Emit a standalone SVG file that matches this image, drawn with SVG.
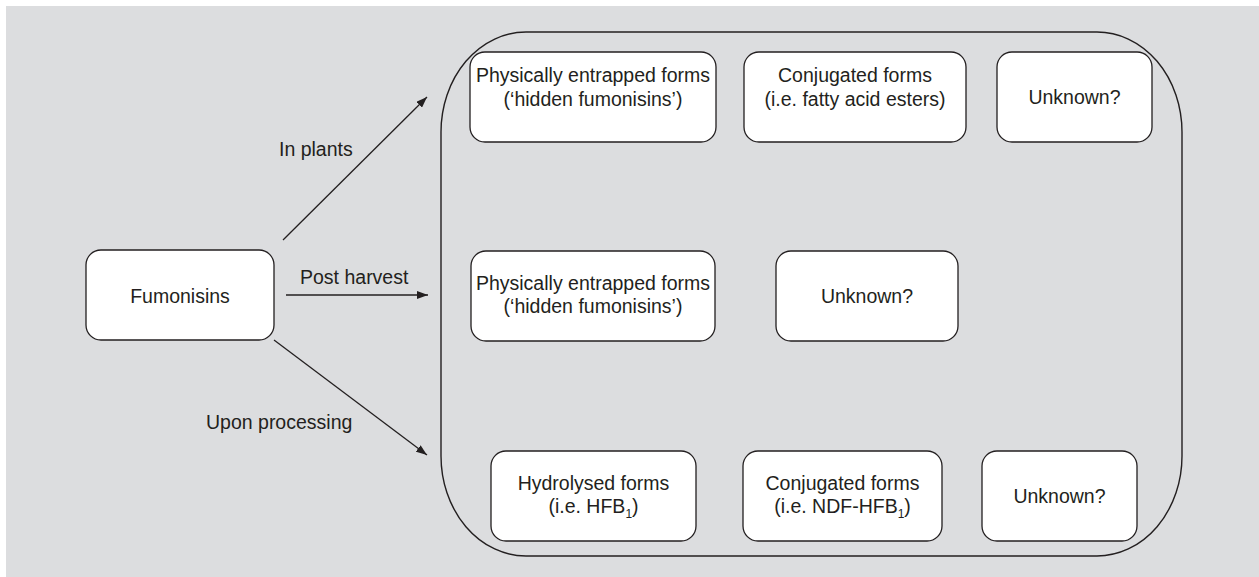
<svg xmlns="http://www.w3.org/2000/svg" width="1259" height="577" viewBox="0 0 1259 577">
<defs>
<style>
.bg{fill:#dcdddf}
.box{fill:#ffffff;stroke:#231f20;stroke-width:1.3}
.cont{fill:none;stroke:#231f20;stroke-width:1.4}
.t{font-family:"Liberation Sans",Arial,sans-serif;font-size:19.5px;fill:#231f20;text-anchor:middle}
.lbl{font-family:"Liberation Sans",Arial,sans-serif;font-size:19.5px;fill:#231f20}
.sub{font-size:12px}
.arr{stroke:#231f20;stroke-width:1.3;fill:none;marker-end:url(#ah)}
</style>
<marker id="ah" viewBox="0 0 11 8" refX="11" refY="4" markerWidth="11" markerHeight="8" markerUnits="userSpaceOnUse" orient="auto">
<path d="M0,0 L11,4 L0,8 Z" fill="#231f20"/>
</marker>
</defs>
<rect class="bg" x="6" y="6" width="1253" height="571"/>
<rect id="container" class="cont" x="441" y="32" width="741" height="524" rx="85" ry="100"/>

<g id="connectors">
<line class="arr" x1="283" y1="240" x2="427" y2="97"/>
<line class="arr" x1="286" y1="295" x2="428" y2="295"/>
<line class="arr" x1="274" y1="340" x2="427" y2="455"/>
<text class="lbl" x="279" y="156">In plants</text>
<text class="lbl" x="300" y="284">Post harvest</text>
<text class="lbl" x="206" y="429">Upon processing</text>
</g>

<g id="fumonisins">
<rect class="box" x="86" y="250" width="188" height="90" rx="15"/>
<text class="t" x="180" y="303">Fumonisins</text>
</g>

<g id="plants-entrapped">
<rect class="box" x="470" y="52" width="246" height="90" rx="15"/>
<text class="t" x="593" y="82">Physically entrapped forms</text>
<text class="t" x="593" y="106">(‘hidden fumonisins’)</text>
</g>
<g id="plants-conjugated">
<rect class="box" x="744" y="52" width="222" height="90" rx="15"/>
<text class="t" x="855" y="82">Conjugated forms</text>
<text class="t" x="855" y="106">(i.e. fatty acid esters)</text>
</g>
<g id="plants-unknown">
<rect class="box" x="997" y="52" width="155" height="90" rx="15"/>
<text class="t" x="1074.5" y="104">Unknown?</text>
</g>

<g id="harvest-entrapped">
<rect class="box" x="471" y="251" width="244" height="90" rx="15"/>
<text class="t" x="593" y="290">Physically entrapped forms</text>
<text class="t" x="593" y="313">(‘hidden fumonisins’)</text>
</g>
<g id="harvest-unknown">
<rect class="box" x="776" y="251" width="182" height="90" rx="15"/>
<text class="t" x="867" y="303">Unknown?</text>
</g>

<g id="processing-hydrolysed">
<rect class="box" x="491" y="451" width="205" height="90" rx="15"/>
<text class="t" x="593.5" y="490">Hydrolysed forms</text>
<text class="t" x="593.5" y="513">(i.e. HFB<tspan class="sub" dy="5">1</tspan><tspan dy="-5">)</tspan></text>
</g>
<g id="processing-conjugated">
<rect class="box" x="743" y="451" width="199" height="90" rx="15"/>
<text class="t" x="842.5" y="490">Conjugated forms</text>
<text class="t" x="842.5" y="513">(i.e. NDF-HFB<tspan class="sub" dy="5">1</tspan><tspan dy="-5">)</tspan></text>
</g>
<g id="processing-unknown">
<rect class="box" x="982" y="451" width="155" height="90" rx="15"/>
<text class="t" x="1059.5" y="503">Unknown?</text>
</g>
</svg>
